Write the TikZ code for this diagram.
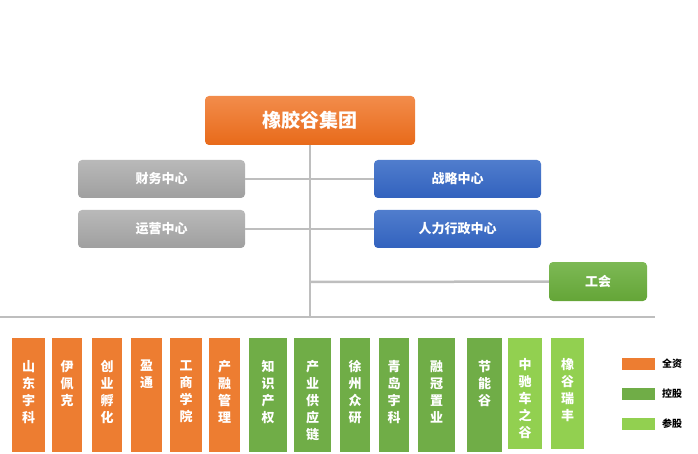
\documentclass[tikz,border=0pt]{standalone}
\usepackage{fontspec}
\setmainfont{Noto Sans CJK SC}
\newfontfamily\cjkb[BoldFont=*]{Noto Sans CJK SC Bold}
\begin{document}
\begin{tikzpicture}[x=1pt,y=-1pt,
  box/.style={rounded corners=4pt,draw=none,text=white,font=\bfseries\fontsize{13}{15}\selectfont,inner sep=0pt},
  gbox/.style={box,top color=gray!55,bottom color=gray!75},
  bbox/.style={box,top color={rgb,255:red,80;green,125;blue,205},bottom color={rgb,255:red,50;green,98;blue,190}},
  sub/.style={draw=none,text=white,font=\bfseries\fontsize{13}{17}\selectfont,align=center,inner sep=0pt,anchor=north west},
  conn/.style={draw={rgb,255:red,190;green,190;blue,190},line width=2.5pt}]
\definecolor{org}{RGB}{237,125,49}
\definecolor{grn}{RGB}{112,173,71}
\definecolor{lgrn}{RGB}{146,208,80}
\useasboundingbox (0,0) rectangle (698,454);
% connectors
\coordinate (top) at (310,145);
\coordinate (bot) at (310,318);
\coordinate (L) at (0,317);
\coordinate (R) at (655,317);
\draw[conn] (top) -- (bot);
\draw[conn] (L) -- (R);
% top
\node[box,top color={rgb,255:red,242;green,140;blue,75},bottom color={rgb,255:red,232;green,106;blue,26},minimum width=210pt,minimum height=49pt,font=\bfseries\fontsize{19}{22}\selectfont] (root) at (310,120.5) {橡胶谷集团};
\node[gbox,minimum width=167pt,minimum height=38pt] (cw) at (161.5,179) {财务中心};
\node[gbox,minimum width=167pt,minimum height=38pt] (yy) at (161.5,229) {运营中心};
\node[bbox,minimum width=167pt,minimum height=38pt] (zl) at (457.5,179) {战略中心};
\node[bbox,minimum width=167pt,minimum height=38pt] (rl) at (457.5,229) {人力行政中心};
\node[box,top color={rgb,255:red,125;green,185;blue,85},bottom color={rgb,255:red,100;green,165;blue,55},minimum width=98pt,minimum height=39pt] (gh) at (598,281.5) {工会};
\draw[conn] (cw) -- (zl);
\draw[conn] (yy) -- (rl);
\coordinate (ghj) at (310,282);
\draw[conn] (ghj) -- (gh);
% bottom boxes
\foreach \a/\b/\c/\t/\n in {12/45/org/山\\东\\宇\\科/s1,52/82/org/伊\\佩\\克/s2,92/122/org/创\\业\\孵\\化/s3,131/162/org/盈\\通/s4,170/202/org/工\\商\\学\\院/s5,209/240/org/产\\融\\管\\理/s6,249/287/grn/知\\识\\产\\权/s7,294/331/grn/产\\业\\供\\应\\链/s8,340/370/grn/徐\\州\\众\\研/s9,379/409/grn/青\\岛\\宇\\科/s10,418/455/grn/融\\冠\\置\\业/s11,467/502/grn/节\\能\\谷/s12}
  {\node[fill=\c,minimum width={\b-\a},minimum height=114pt,anchor=north west,inner sep=0pt] (\n) at (\a,338) {};
   \node[sub] at ([yshift=-22pt]\n.north) [anchor=north] {\t};}
\foreach \a/\b/\t/\n in {508/542/中\\驰\\车\\之\\谷/s13,551/584/橡\\谷\\瑞\\丰/s14}
  {\node[fill=lgrn,minimum width={\b-\a},minimum height=111pt,anchor=north west,inner sep=0pt] (\n) at (\a,338) {};
   \node[sub] at ([yshift=-20pt]\n.north) [anchor=north] {\t};}
% legend
\foreach \y/\c/\t/\n in {364/org/全资/l1,394/grn/控股/l2,423.5/lgrn/参股/l3}
  {\node[fill=\c,minimum width=33pt,minimum height=12pt,inner sep=0pt] (\n) at (638.5,\y) {};
   \node[anchor=west,font=\bfseries\fontsize{10}{12}\selectfont,inner sep=0pt] at (662,\y) {\t};}
\end{tikzpicture}
\end{document}
